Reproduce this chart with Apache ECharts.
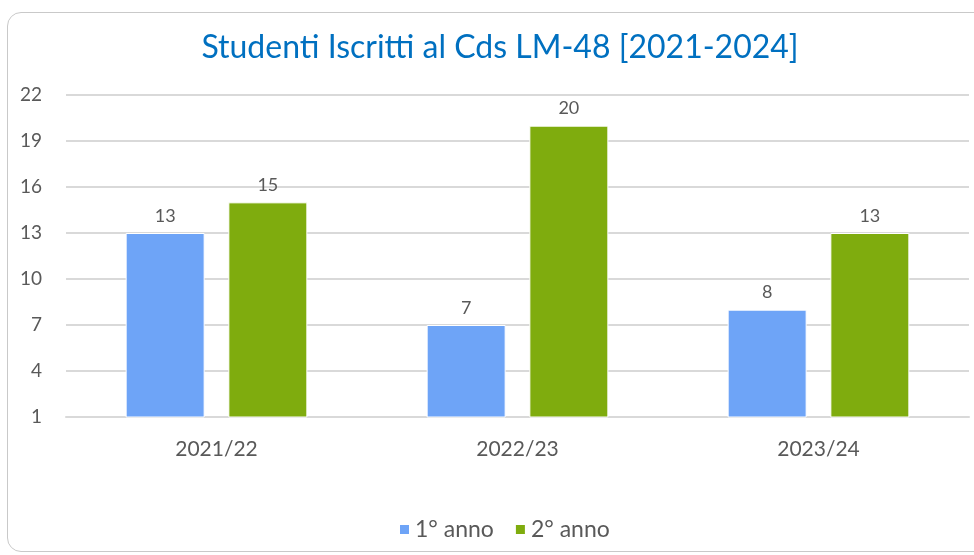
<!DOCTYPE html>
<html>
<head>
<meta charset="utf-8">
<script src="https://cdn.jsdelivr.net/npm/echarts@6/dist/echarts.min.js"></script>
<style>
  html, body { margin: 0; padding: 0; background: #fff; overflow: hidden; }
  .wrap { position: relative; width: 974px; height: 555px; }
  .frame {
    position: absolute; left: 7px; top: 12px; width: 990px; height: 540px;
    border: 1px solid #c9c9c9; border-radius: 14px; box-sizing: border-box;
  }
  #chart { position: absolute; left: 0; top: 0; width: 974px; height: 555px; }
</style>
</head>
<body>
<div class="wrap">
  <div class="frame"></div>
  <div id="chart"></div>
</div>
<script>
const categories = ['2021/22', '2022/23', '2023/24'];
const primoAnno = [13, 7, 8];
const secondoAnno = [15, 20, 13];
const seriesNames = ['1° anno', '2° anno'];

const font = 'Lato, "Open Sans", sans-serif';
const chart = echarts.init(document.getElementById('chart'));
chart.setOption({
  animation: false,
  title: {
    text: 'Studenti Iscritti al Cds LM-48 [2021-2024]',
    left: 495,
    textAlign: 'center',
    top: 27,
    textStyle: { color: '#0070c0', fontSize: 32, fontWeight: 'normal', fontFamily: font }
  },
  legend: {
    bottom: 9,
    left: 393,
    itemWidth: 11,
    itemHeight: 11,
    itemGap: 20,
    icon: 'rect',
    textStyle: { color: '#595959', fontSize: 23, fontFamily: font },
    data: seriesNames
  },
  grid: { left: 66, right: 5, top: 95, bottom: 138 },
  xAxis: {
    type: 'category',
    data: categories,
    axisLine: { lineStyle: { color: '#d9d9d9', width: 2 } },
    axisTick: { show: false },
    axisLabel: { color: '#595959', fontSize: 21, fontFamily: font, margin: 22 }
  },
  yAxis: {
    type: 'value',
    min: 1,
    max: 22,
    interval: 3,
    axisLine: { show: false },
    axisTick: { show: false },
    axisLabel: { color: '#595959', fontSize: 19, fontFamily: font, margin: 24 },
    splitLine: { lineStyle: { color: '#d9d9d9', width: 2 } }
  },
  series: [
    {
      name: seriesNames[0],
      type: 'bar',
      data: primoAnno,
      barWidth: 79,
      barGap: '30%',
      itemStyle: { color: '#6ea4f7', borderColor: '#ffffff', borderWidth: 1 },
      label: { show: true, position: 'top', distance: 8, color: '#595959', fontSize: 18, fontFamily: font }
    },
    {
      name: seriesNames[1],
      type: 'bar',
      data: secondoAnno,
      barWidth: 79,
      itemStyle: { color: '#7fac0e', borderColor: '#ffffff', borderWidth: 1 },
      label: { show: true, position: 'top', distance: 8, color: '#595959', fontSize: 18, fontFamily: font }
    }
  ]
});
</script>
</body>
</html>
